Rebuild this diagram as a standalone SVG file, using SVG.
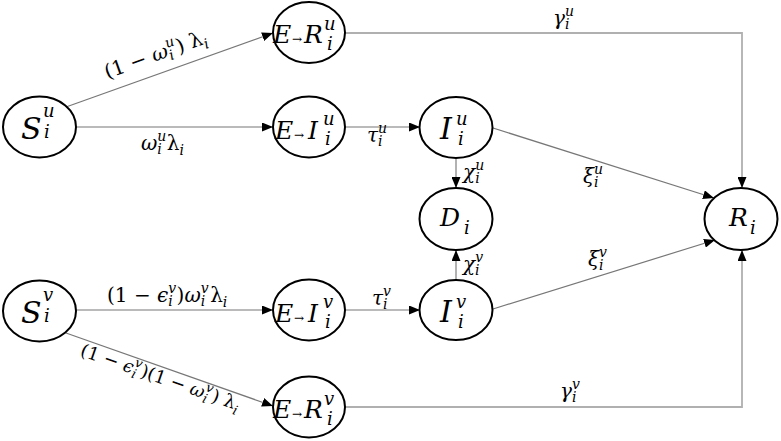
<svg xmlns="http://www.w3.org/2000/svg" width="781" height="441" viewBox="0 0 781 441">
<defs>
<marker id="ah" markerUnits="userSpaceOnUse" markerWidth="11" markerHeight="9" refX="11" refY="4.5" orient="auto">
<path d="M0,0 L11,4.5 L0,9 z" fill="#000"/>
</marker>
<style>
.nd ellipse{fill:#fff;stroke:#000;stroke-width:2}
text{font-family:"DejaVu Serif","Liberation Serif",serif;fill:#000}
.it{font-style:italic}
.big{font-size:30px;font-style:italic}
.mid{font-size:25px;font-style:italic}
.sup{font-size:18px;font-style:italic}
.arr{font-size:12px}
.lb{font-size:20px}
.lb2{font-size:18px}
.sm{font-size:14px;font-style:italic}
.sm2{font-size:13px;font-style:italic}
.ln{stroke:#777;stroke-width:1.2;fill:none}
.lg{stroke:#b0b0b0;stroke-width:1.8;fill:none}
.ld{stroke:#999;stroke-width:1.5;fill:none}
</style>
</defs>
<rect width="781" height="441" fill="#fff"/>
<g id="connectors">
<line class="ln" x1="66" y1="107" x2="273" y2="33" marker-end="url(#ah)"/>
<line class="ln" x1="76" y1="127" x2="273" y2="127" marker-end="url(#ah)"/>
<line class="ln" x1="345" y1="127" x2="420" y2="127" marker-end="url(#ah)"/>
<line class="ld" x1="456" y1="158" x2="456" y2="188" marker-end="url(#ah)"/>
<line class="ld" x1="456" y1="280" x2="456" y2="250" marker-end="url(#ah)"/>
<line class="ln" x1="493" y1="128" x2="714" y2="198" marker-end="url(#ah)"/>
<line class="ln" x1="493" y1="309" x2="715" y2="240" marker-end="url(#ah)"/>
<polyline class="lg" points="345,33 742,33 742,188" marker-end="url(#ah)"/>
<polyline class="lg" points="345,407 742,407 742,250" marker-end="url(#ah)"/>
<line class="ln" x1="76" y1="310" x2="273" y2="310" marker-end="url(#ah)"/>
<line class="ln" x1="345" y1="310" x2="420" y2="310" marker-end="url(#ah)"/>
<line class="ln" x1="66" y1="333" x2="273" y2="406" marker-end="url(#ah)"/>
</g>
<g id="labels">
<g transform="translate(160,60) rotate(-19.7)">
<text x="-56" y="0" class="lb">(1 − <tspan class="it">ω</tspan><tspan class="sm" dy="-9">u</tspan><tspan class="sm" dx="-9" dy="13">i</tspan><tspan dx="5" dy="-4">) λ</tspan><tspan class="sm" dy="5">i</tspan></text>
</g>
<text x="141" y="150" class="lb"><tspan class="it">ω</tspan><tspan class="sm" dy="-9">u</tspan><tspan class="sm" dx="-9" dy="13">i</tspan><tspan dx="5" dy="-4">λ</tspan><tspan class="sm" dy="5">i</tspan></text>
<text x="367" y="142" class="lb"><tspan class="it">τ</tspan><tspan class="sm" dy="-9">u</tspan><tspan class="sm" dx="-9" dy="13">i</tspan></text>
<text x="553" y="25" class="lb"><tspan class="it">γ</tspan><tspan class="sm" dy="-9">u</tspan><tspan class="sm" dx="-9" dy="13">i</tspan></text>
<text x="463" y="179" class="lb"><tspan class="it">χ</tspan><tspan class="sm" dy="-9">u</tspan><tspan class="sm" dx="-9" dy="13">i</tspan></text>
<text x="583" y="183" class="lb"><tspan class="it">ξ</tspan><tspan class="sm" dy="-9">u</tspan><tspan class="sm" dx="-9" dy="13">i</tspan></text>
<text x="463" y="271" class="lb"><tspan class="it">χ</tspan><tspan class="sm" dy="-9">v</tspan><tspan class="sm" dx="-8" dy="13">i</tspan></text>
<text x="588" y="266" class="lb"><tspan class="it">ξ</tspan><tspan class="sm" dy="-9">v</tspan><tspan class="sm" dx="-8" dy="13">i</tspan></text>
<text x="372" y="305" class="lb"><tspan class="it">τ</tspan><tspan class="sm" dy="-9">v</tspan><tspan class="sm" dx="-8" dy="13">i</tspan></text>
<text x="560" y="398" class="lb"><tspan class="it">γ</tspan><tspan class="sm" dy="-9">v</tspan><tspan class="sm" dx="-8" dy="13">i</tspan></text>
<text x="107" y="302" class="lb">(1 − <tspan class="it">ϵ</tspan><tspan class="sm" dy="-9">v</tspan><tspan class="sm" dx="-8" dy="13">i</tspan><tspan dx="4" dy="-4">)</tspan><tspan class="it">ω</tspan><tspan class="sm" dy="-9">v</tspan><tspan class="sm" dx="-8" dy="13">i</tspan><tspan dx="5" dy="-4">λ</tspan><tspan class="sm" dy="5">i</tspan></text>
<g transform="translate(153,381) rotate(19.2)">
<text x="-78" y="0" class="lb2">(1 − <tspan class="it">ϵ</tspan><tspan class="sm2" dy="-8">v</tspan><tspan class="sm2" dx="-7" dy="12">i</tspan><tspan dx="4" dy="-4">)(1 − </tspan><tspan class="it">ω</tspan><tspan class="sm2" dy="-8">v</tspan><tspan class="sm2" dx="-7" dy="12">i</tspan><tspan dx="4" dy="-4">) λ</tspan><tspan class="sm2" dy="5">i</tspan></text>
</g>
</g>
<g id="S_u" class="nd">
<ellipse cx="39.5" cy="127" rx="36.5" ry="30.5"/>
<text x="21" y="139" class="big">S</text><text x="43" y="117" class="sup">u</text><text x="44" y="138" class="sup">i</text>
</g>
<g id="S_v" class="nd">
<ellipse cx="39.5" cy="311" rx="36.5" ry="30.5"/>
<text x="21" y="323" class="big">S</text><text x="43" y="301" class="sup">v</text><text x="44" y="322" class="sup">i</text>
</g>
<g id="ER_u" class="nd">
<ellipse cx="309" cy="32.5" rx="36" ry="30.5"/>
<text x="273" y="43" class="mid">E</text><text x="292" y="43" class="arr">→</text><text x="304" y="43" class="mid">R</text><text x="324" y="30" class="sup">u</text><text x="327" y="50" class="sup">i</text>
</g>
<g id="EI_u" class="nd">
<ellipse cx="309" cy="127" rx="36" ry="30.5"/>
<text x="275" y="139" class="mid">E</text><text x="294" y="139" class="arr">→</text><text x="308" y="139" class="mid">I</text><text x="323" y="125" class="sup">u</text><text x="325" y="145" class="sup">i</text>
</g>
<g id="EI_v" class="nd">
<ellipse cx="309" cy="310" rx="36" ry="30.5"/>
<text x="275" y="322" class="mid">E</text><text x="294" y="322" class="arr">→</text><text x="308" y="322" class="mid">I</text><text x="323" y="308" class="sup">v</text><text x="325" y="328" class="sup">i</text>
</g>
<g id="ER_v" class="nd">
<ellipse cx="309" cy="407" rx="36" ry="30.5"/>
<text x="273" y="418" class="mid">E</text><text x="292" y="418" class="arr">→</text><text x="304" y="418" class="mid">R</text><text x="324" y="405" class="sup">v</text><text x="327" y="425" class="sup">i</text>
</g>
<g id="I_u" class="nd">
<ellipse cx="456" cy="127.5" rx="36.5" ry="30.5"/>
<text x="440" y="139" class="big">I</text><text x="456" y="125" class="sup">u</text><text x="458" y="145" class="sup">i</text>
</g>
<g id="I_v" class="nd">
<ellipse cx="456" cy="310" rx="36.5" ry="30"/>
<text x="440" y="322" class="big">I</text><text x="456" y="308" class="sup">v</text><text x="458" y="328" class="sup">i</text>
</g>
<g id="D" class="nd">
<ellipse cx="456" cy="219" rx="36.5" ry="31"/>
<text x="440" y="226" class="mid">D</text><text x="464" y="234" class="sup">i</text>
</g>
<g id="R" class="nd">
<ellipse cx="741" cy="219" rx="36.5" ry="31"/>
<text x="729" y="226" class="mid">R</text><text x="750" y="234" class="sup">i</text>
</g>
</svg>
